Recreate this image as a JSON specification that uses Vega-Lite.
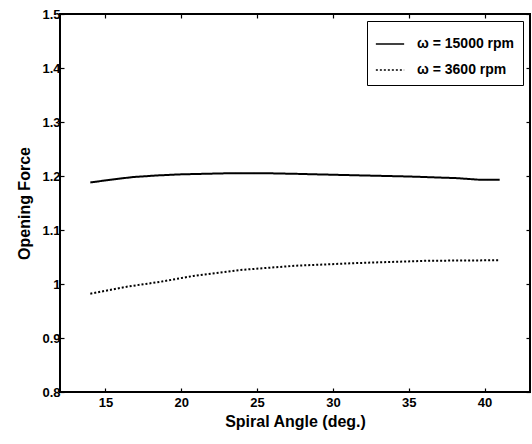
{
  "$schema": "https://vega.github.io/schema/vega-lite/v6.json",
  "autosize": {"type": "none"},
  "padding": {"left": 60, "top": 14, "right": 2, "bottom": 52},
  "width": 470,
  "height": 378,
  "background": "white",
  "config": {
    "view": {"stroke": "black", "strokeWidth": 2},
    "font": "Liberation Sans",
    "axis": {
      "labelFont": "Liberation Sans",
      "labelFontWeight": "bold",
      "labelFontSize": 13,
      "labelColor": "black",
      "titleFont": "Liberation Sans",
      "titleFontWeight": "bold",
      "titleFontSize": 16,
      "titleColor": "black",
      "grid": false,
      "domain": false,
      "tickColor": "black",
      "tickSize": -4,
      "tickWidth": 1.2
    }
  },
  "data": {
    "values": [
      {"angle": 14.0, "force": 1.188, "series": "ω = 15000 rpm"},
      {"angle": 15.3, "force": 1.193, "series": "ω = 15000 rpm"},
      {"angle": 16.8, "force": 1.198, "series": "ω = 15000 rpm"},
      {"angle": 18.4, "force": 1.201, "series": "ω = 15000 rpm"},
      {"angle": 19.9, "force": 1.203, "series": "ω = 15000 rpm"},
      {"angle": 23.0, "force": 1.205, "series": "ω = 15000 rpm"},
      {"angle": 25.8, "force": 1.205, "series": "ω = 15000 rpm"},
      {"angle": 27.6, "force": 1.204, "series": "ω = 15000 rpm"},
      {"angle": 29.0, "force": 1.203, "series": "ω = 15000 rpm"},
      {"angle": 32.0, "force": 1.201, "series": "ω = 15000 rpm"},
      {"angle": 35.1, "force": 1.199, "series": "ω = 15000 rpm"},
      {"angle": 38.2, "force": 1.196, "series": "ω = 15000 rpm"},
      {"angle": 39.7, "force": 1.193, "series": "ω = 15000 rpm"},
      {"angle": 41.0, "force": 1.193, "series": "ω = 15000 rpm"},
      {"angle": 14.0, "force": 0.982, "series": "ω = 3600 rpm"},
      {"angle": 16.4, "force": 0.995, "series": "ω = 3600 rpm"},
      {"angle": 18.6, "force": 1.004, "series": "ω = 3600 rpm"},
      {"angle": 20.8, "force": 1.015, "series": "ω = 3600 rpm"},
      {"angle": 23.9, "force": 1.026, "series": "ω = 3600 rpm"},
      {"angle": 27.6, "force": 1.034, "series": "ω = 3600 rpm"},
      {"angle": 31.8, "force": 1.039, "series": "ω = 3600 rpm"},
      {"angle": 36.2, "force": 1.043, "series": "ω = 3600 rpm"},
      {"angle": 41.0, "force": 1.044, "series": "ω = 3600 rpm"}
    ]
  },
  "layer": [
    {
      "mark": {"type": "line", "color": "black", "strokeWidth": 2},
      "encoding": {
        "x": {
          "field": "angle", "type": "quantitative",
          "scale": {"domain": [12, 43], "nice": false, "zero": false},
          "axis": {"orient": "bottom", "values": [15, 20, 25, 30, 35, 40], "title": "Spiral Angle (deg.)", "labelPadding": 8, "titlePadding": 4}
        },
        "y": {
          "field": "force", "type": "quantitative",
          "scale": {"domain": [0.8, 1.5], "nice": false, "zero": false},
          "axis": {"orient": "left", "values": [0.8, 0.9, 1, 1.1, 1.2, 1.3, 1.4, 1.5], "format": "~g", "title": "Opening Force", "labelPadding": 4, "titlePadding": 9}
        },
        "strokeDash": {
          "field": "series", "type": "nominal",
          "scale": {"domain": ["ω = 15000 rpm", "ω = 3600 rpm"], "range": [[1, 0], [2, 2]]},
          "legend": {
            "title": null,
            "orient": "top-right",
            "offset": 7,
            "symbolType": "stroke",
            "symbolSize": 800,
            "symbolStrokeColor": "black",
            "symbolStrokeWidth": 1.5,
            "labelFont": "Liberation Sans",
            "labelFontWeight": "bold",
            "labelFontSize": 14,
            "labelColor": "black",
            "labelOffset": 12,
            "strokeColor": "black",
            "fillColor": "white",
            "padding": 8,
            "rowPadding": 4
          }
        }
      }
    },
    {
      "mark": {"type": "point", "opacity": 0},
      "encoding": {
        "x": {
          "field": "angle", "type": "quantitative",
          "axis": {"orient": "top", "values": [15, 20, 25, 30, 35, 40], "labels": false, "title": null}
        },
        "y": {
          "field": "force", "type": "quantitative",
          "axis": {"orient": "right", "values": [0.8, 0.9, 1, 1.1, 1.2, 1.3, 1.4, 1.5], "labels": false, "title": null}
        }
      }
    }
  ],
  "resolve": {"axis": {"x": "independent", "y": "independent"}}
}
